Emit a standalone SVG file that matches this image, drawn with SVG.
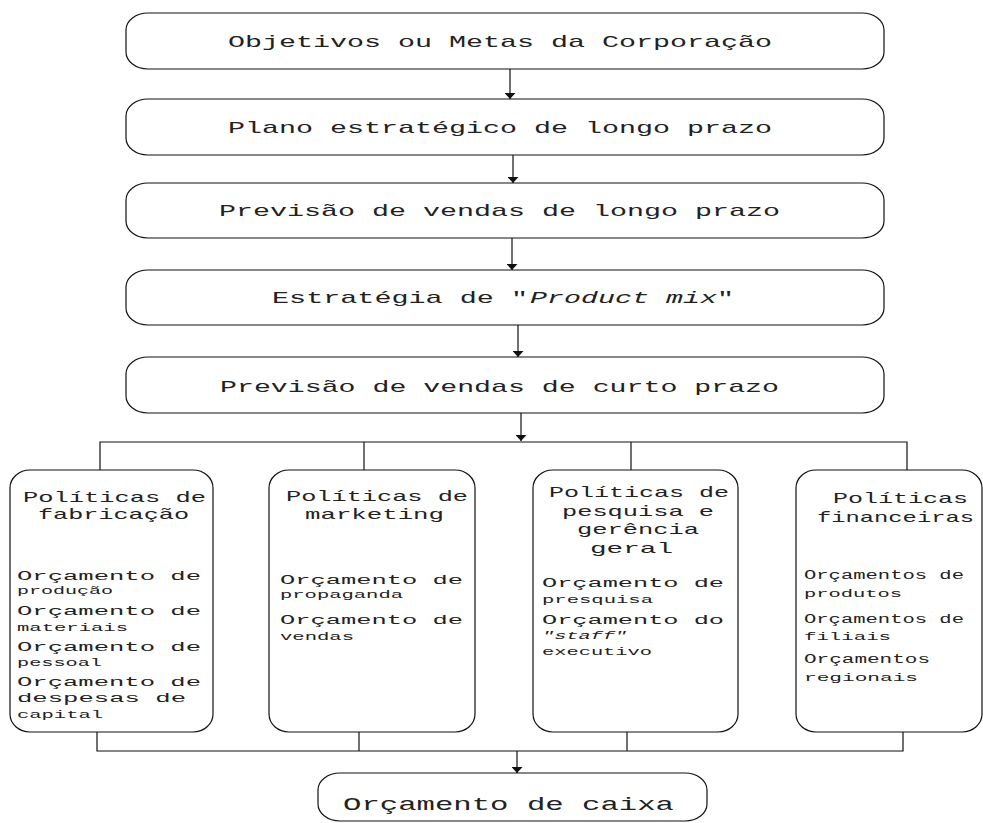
<svg xmlns="http://www.w3.org/2000/svg" width="983" height="823" viewBox="0 0 983 823">
<style>
.box{fill:#fff;stroke:#111;stroke-width:1.2}
.c{fill:none;stroke:#111;stroke-width:1.2}
text{font-family:"Liberation Mono","Courier New",monospace;fill:#222}
.t{font-size:17px}
.h{font-size:15px}
.b{font-size:12.5px}
.s{font-size:11px}
.i{font-style:italic}
</style>
<defs>
<marker id="ah" viewBox="0 0 10 10" refX="10" refY="5" markerUnits="userSpaceOnUse" markerWidth="6" markerHeight="11" orient="auto" preserveAspectRatio="none">
<path d="M0,0 L10,5 L0,10 z" fill="#111"/>
</marker>
</defs>
<rect width="983" height="823" fill="#fff"/>

<g id="connectors">
<line class="c" x1="510" y1="69" x2="510" y2="99" marker-end="url(#ah)"/>
<line class="c" x1="513" y1="155" x2="513" y2="183" marker-end="url(#ah)"/>
<line class="c" x1="512" y1="238" x2="512" y2="270" marker-end="url(#ah)"/>
<line class="c" x1="518" y1="325" x2="518" y2="357" marker-end="url(#ah)"/>
<line class="c" x1="521" y1="413" x2="521" y2="441" marker-end="url(#ah)"/>
<polyline class="c" points="100,470 100,442 907,442 907,470"/>
<line class="c" x1="364" y1="442" x2="364" y2="470"/>
<line class="c" x1="631" y1="442" x2="631" y2="470"/>
<polyline class="c" points="97,732 97,751 903,751 903,732"/>
<line class="c" x1="359" y1="732" x2="359" y2="751"/>
<line class="c" x1="627" y1="732" x2="627" y2="751"/>
<line class="c" x1="517" y1="751" x2="517" y2="773" marker-end="url(#ah)"/>
</g>

<g id="n1">
<rect class="box" x="126" y="13" width="758" height="56" rx="22" ry="17"/>
<text class="t" x="228" y="47" textLength="544" lengthAdjust="spacingAndGlyphs">Objetivos ou Metas da Corporação</text>
</g>
<g id="n2">
<rect class="box" x="126" y="99" width="758" height="56" rx="22" ry="17"/>
<text class="t" x="228" y="133" textLength="544" lengthAdjust="spacingAndGlyphs">Plano estratégico de longo prazo</text>
</g>
<g id="n3">
<rect class="box" x="126" y="183" width="758" height="55" rx="22" ry="17"/>
<text class="t" x="219" y="216" textLength="561" lengthAdjust="spacingAndGlyphs">Previsão de vendas de longo prazo</text>
</g>
<g id="n4">
<rect class="box" x="126" y="270" width="758" height="55" rx="22" ry="17"/>
<text class="t" x="272" y="303" textLength="256" lengthAdjust="spacingAndGlyphs">Estratégia de "</text>
<text class="t i" x="530" y="303" textLength="187" lengthAdjust="spacingAndGlyphs">Product mix</text>
<text class="t" x="717" y="303" textLength="17" lengthAdjust="spacingAndGlyphs">"</text>
</g>
<g id="n5">
<rect class="box" x="126" y="357" width="758" height="56" rx="22" ry="17"/>
<text class="t" x="220" y="392" textLength="559" lengthAdjust="spacingAndGlyphs">Previsão de vendas de curto prazo</text>
</g>

<g id="n6">
<rect class="box" x="10" y="470" width="203" height="262" rx="20" ry="18"/>
<text class="h" x="23" y="502" textLength="183" lengthAdjust="spacingAndGlyphs">Políticas de</text>
<text class="h" x="38" y="519" textLength="151" lengthAdjust="spacingAndGlyphs">fabricação</text>
<text class="b" x="17" y="580" textLength="184" lengthAdjust="spacingAndGlyphs">Orçamento de</text>
<text class="s" x="17" y="594" textLength="96" lengthAdjust="spacingAndGlyphs">produção</text>
<text class="b" x="17" y="615" textLength="184" lengthAdjust="spacingAndGlyphs">Orçamento de</text>
<text class="s" x="17" y="631" textLength="111" lengthAdjust="spacingAndGlyphs">materiais</text>
<text class="b" x="17" y="651" textLength="184" lengthAdjust="spacingAndGlyphs">Orçamento de</text>
<text class="s" x="17" y="666" textLength="85" lengthAdjust="spacingAndGlyphs">pessoal</text>
<text class="b" x="17" y="686" textLength="184" lengthAdjust="spacingAndGlyphs">Orçamento de</text>
<text class="b" x="17" y="702" textLength="169" lengthAdjust="spacingAndGlyphs">despesas de</text>
<text class="s" x="17" y="718" textLength="86" lengthAdjust="spacingAndGlyphs">capital</text>
</g>

<g id="n7">
<rect class="box" x="269" y="470" width="206" height="262" rx="20" ry="18"/>
<text class="h" x="286" y="501" textLength="182" lengthAdjust="spacingAndGlyphs">Políticas de</text>
<text class="h" x="305" y="519" textLength="139" lengthAdjust="spacingAndGlyphs">marketing</text>
<text class="b" x="280" y="584" textLength="183" lengthAdjust="spacingAndGlyphs">Orçamento de</text>
<text class="s" x="280" y="598" textLength="123" lengthAdjust="spacingAndGlyphs">propaganda</text>
<text class="b" x="280" y="624" textLength="183" lengthAdjust="spacingAndGlyphs">Orçamento de</text>
<text class="s" x="280" y="640" textLength="74" lengthAdjust="spacingAndGlyphs">vendas</text>
</g>

<g id="n8">
<rect class="box" x="533" y="470" width="205" height="262" rx="20" ry="18"/>
<text class="h" x="549" y="497" textLength="180" lengthAdjust="spacingAndGlyphs">Políticas de</text>
<text class="h" x="562" y="516" textLength="152" lengthAdjust="spacingAndGlyphs">pesquisa e</text>
<text class="h" x="577" y="534" textLength="122" lengthAdjust="spacingAndGlyphs">gerência</text>
<text class="h" x="590" y="553" textLength="83" lengthAdjust="spacingAndGlyphs">geral</text>
<text class="b" x="542" y="587" textLength="182" lengthAdjust="spacingAndGlyphs">Orçamento de</text>
<text class="s" x="542" y="603" textLength="111" lengthAdjust="spacingAndGlyphs">presquisa</text>
<text class="b" x="542" y="624" textLength="182" lengthAdjust="spacingAndGlyphs">Orçamento do</text>
<text class="s i" x="542" y="639" textLength="85" lengthAdjust="spacingAndGlyphs">"staff"</text>
<text class="s" x="542" y="655" textLength="110" lengthAdjust="spacingAndGlyphs">executivo</text>
</g>

<g id="n9">
<rect class="box" x="796" y="470" width="186" height="262" rx="20" ry="18"/>
<text class="h" x="833" y="503" textLength="135" lengthAdjust="spacingAndGlyphs">Políticas</text>
<text class="h" x="817" y="522" textLength="157" lengthAdjust="spacingAndGlyphs">financeiras</text>
<text class="b" x="804" y="579" textLength="160" lengthAdjust="spacingAndGlyphs">Orçamentos de</text>
<text class="s" x="804" y="597" textLength="98" lengthAdjust="spacingAndGlyphs">produtos</text>
<text class="b" x="804" y="623" textLength="160" lengthAdjust="spacingAndGlyphs">Orçamentos de</text>
<text class="s" x="804" y="640" textLength="87" lengthAdjust="spacingAndGlyphs">filiais</text>
<text class="b" x="804" y="663" textLength="126" lengthAdjust="spacingAndGlyphs">Orçamentos</text>
<text class="s" x="804" y="681" textLength="114" lengthAdjust="spacingAndGlyphs">regionais</text>
</g>

<g id="n10">
<rect class="box" x="318" y="773" width="389" height="48" rx="22" ry="17"/>
<text x="343" y="810" font-size="19" textLength="331" lengthAdjust="spacingAndGlyphs">Orçamento de caixa</text>
</g>
</svg>
